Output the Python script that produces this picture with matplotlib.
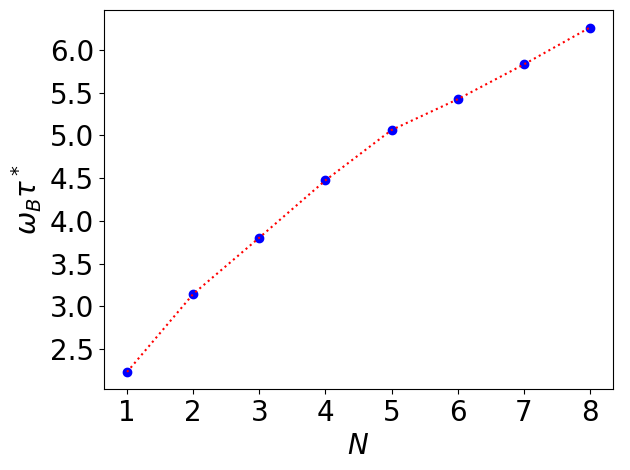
import matplotlib
matplotlib.use('Agg')
import matplotlib.pyplot as plt
import numpy as np

# values
N = [1, 2, 3, 4, 5, 6, 7, 8]
omega_tau = [2.232, 3.144, 3.803, 4.473, 5.062, 5.422, 5.829, 6.261]
y_ticks = [2.5, 3.0, 3.5, 4.0, 4.5, 5.0, 5.5, 6.0]

fig = plt.figure(figsize=(6.3, 4.7), dpi=100)
ax = fig.add_axes([0.165, 0.172, 0.808, 0.806])

ax.plot(N, omega_tau, 'bo')
ax.plot(N, omega_tau, 'r:')

ax.set_xticks(N)
ax.set_yticks(y_ticks)
ax.set_xlabel(r'$N$', fontsize=20)
ax.set_ylabel(r'$\omega_B\tau^*$', fontsize=20)
ax.tick_params(labelsize=20)

fig.savefig('out.png', dpi=100)
